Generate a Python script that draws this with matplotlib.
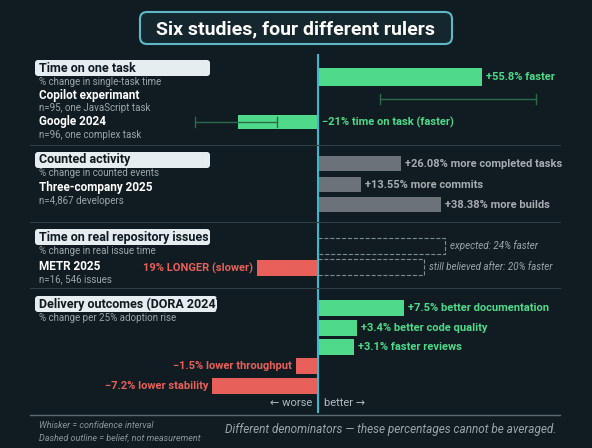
import matplotlib
matplotlib.use("Agg")
import matplotlib.pyplot as plt
from matplotlib.patches import FancyBboxPatch, Rectangle

plt.rcParams['font.family'] = ['Roboto', 'DejaVu Sans']

# ---- data ----
copilot_val = 55.8; copilot_ci = [21, 74]
google_val = -21; google_ci = [-42, -14]
counted_vals = [26.08, 13.55, 38.38]
counted_labels = ["+26.08% more completed tasks", "+13.55% more commits", "+38.38% more builds"]
metr_val = -19
metr_belief = [24, 20]
metr_belief_labels = ["expected: 24% faster", "still believed after: 20% faster"]
dora_vals = [7.5, 3.4, 3.1, -1.5, -7.2]
dora_labels = ["+7.5% better documentation", "+3.4% better code quality", "+3.1% faster reviews",
               "\u22121.5% lower throughput", "\u22127.2% lower stability"]

BG = "#101c22"; GREEN = "#4fd98a"; RED = "#e8605a"; GRAY = "#6b7378"; CYAN = "#3ab8d0"
Z = 318

fig = plt.figure(figsize=(5.92, 4.48), dpi=100, facecolor=BG)
ax = fig.add_axes([0, 0, 1, 1])
ax.set_xlim(0, 592); ax.set_ylim(448, 0); ax.axis('off'); ax.set_facecolor(BG)

# title
ax.add_patch(FancyBboxPatch((140, 12), 312, 32, boxstyle="round,pad=0,rounding_size=7",
             fc="#14262e", ec="#5fb8c8", lw=1.5))
ax.text(296, 29, "Six studies, four different rulers", color="white", fontsize=14,
        fontweight='bold', ha='center', va='center')

# zero line
ax.plot([Z, Z], [55, 412], color=CYAN, lw=1.5)
for y in [145, 222, 288]:
    ax.plot([30, 560], [y, y], color="#2e3e46", lw=0.8)
ax.plot([30, 560], [415, 415], color="#5a6a72", lw=1)

def header(y, txt, w):
    ax.add_patch(FancyBboxPatch((35, y - 8), w, 16, boxstyle="round,pad=0,rounding_size=3",
                 fc="#e6edf0", ec="none"))
    ax.text(39, y, txt, color="#0e1a20", fontsize=9, fontweight='bold', va='center')

def sub(y, txt):
    ax.text(39, y, txt, color="#9aa6ab", fontsize=7, va='center')

def name(y, txt):
    ax.text(39, y, txt, color="white", fontsize=8.5, fontweight='bold', va='center')

# Section 1
header(68, "Time on one task", 175); sub(82, "% change in single-task time")
name(96, "Copilot experimant"); sub(108, "n=95, one JavaScript task")
name(122, "Google 2024"); sub(135, "n=96, one complex task")
s1 = 2.94
ax.barh([77], [copilot_val * s1], left=Z, height=18, color=GREEN)
ax.plot([Z + copilot_ci[0] * s1, Z + copilot_ci[1] * s1], [99, 99], color="#2c6a48", lw=1)
for c in copilot_ci:
    ax.plot([Z + c * s1] * 2, [94, 104], color="#2c6a48", lw=1)
ax.text(Z + copilot_val * s1 + 4, 77, "+55.8% faster", color=GREEN, fontsize=8, va='center', fontweight='bold')
ax.barh([122], [google_val * 3.8], left=Z, height=14, color=GREEN)
ax.plot([Z + google_ci[0] * 2.94, Z + google_ci[1] * 2.94], [122, 122], color="#2c6a48", lw=1)
for c in google_ci:
    ax.plot([Z + c * 2.94] * 2, [117, 127], color="#2c6a48", lw=1)
ax.text(Z + 4, 122, "\u221221% time on task (faster)", color=GREEN, fontsize=8, va='center', fontweight='bold')

# Section 2
header(160, "Counted activity", 175); sub(173, "% change in counted events")
name(187, "Three-company 2025"); sub(201, "n=4,867 developers")
s2 = 3.2
for y, v, lab in zip([164, 185, 205], counted_vals, counted_labels):
    ax.barh([y], [v * s2], left=Z, height=15, color=GRAY)
    ax.text(Z + v * s2 + 4, y, lab, color="#a5adb1", fontsize=8, va='center', fontweight='bold')

# Section 3
header(237, "Time on real repository issues", 175); sub(251, "% change in real issue time")
name(266, "METR 2025"); sub(279, "n=16, 546 issues")
ax.barh([268], [metr_val * 3.2], left=Z, height=16, color=RED)
ax.text(Z + metr_val * 3.2 - 4, 268, "19% LONGER (slower)", color=RED, fontsize=8, va='center',
        ha='right', fontweight='bold')
s3 = 5.3
for y, v, lab in zip([246, 267], metr_belief, metr_belief_labels):
    ax.add_patch(Rectangle((Z, y - 8), v * s3, 16, fill=False, ec="#7d8a90", ls='--', lw=0.8))
    ax.text(Z + v * s3 + 5, y, lab, color="#9aa6ab", fontsize=7, va='center', style='italic')

# Section 4
header(304, "Delivery outcomes (DORA 2024)", 182); sub(318, "% change per 25% adoption rise")
s4 = 11.5
for y, v, lab in zip([308, 328, 347, 366, 386], dora_vals, dora_labels):
    ax.barh([y], [v * (s4 if v > 0 else 14.7)], left=Z, height=16, color=GREEN if v > 0 else RED)
    if v > 0:
        ax.text(Z + v * s4 + 4, y, lab, color=GREEN, fontsize=8, va='center', fontweight='bold')
    else:
        ax.text(Z + v * 14.7 - 4, y, lab, color=RED, fontsize=8, va='center', ha='right', fontweight='bold')

ax.text(Z - 6, 403, "\u2190 worse", color="#b0bbc0", fontsize=8, ha='right', va='center')
ax.text(Z + 6, 403, "better \u2192", color="#b0bbc0", fontsize=8, ha='left', va='center')

ax.text(39, 426, "Whisker = confidence interval", color="#8a969b", fontsize=6.5, style='italic', va='center')
ax.text(39, 438, "Dashed outline = belief, not measurement", color="#8a969b", fontsize=6.5, style='italic', va='center')
ax.text(556, 430, "Different denominators \u2014 these percentages cannot be averaged.", color="#9aa6ab",
        fontsize=8.5, style='italic', ha='right', va='center')

fig.savefig("out.png", dpi=100, facecolor=BG)
